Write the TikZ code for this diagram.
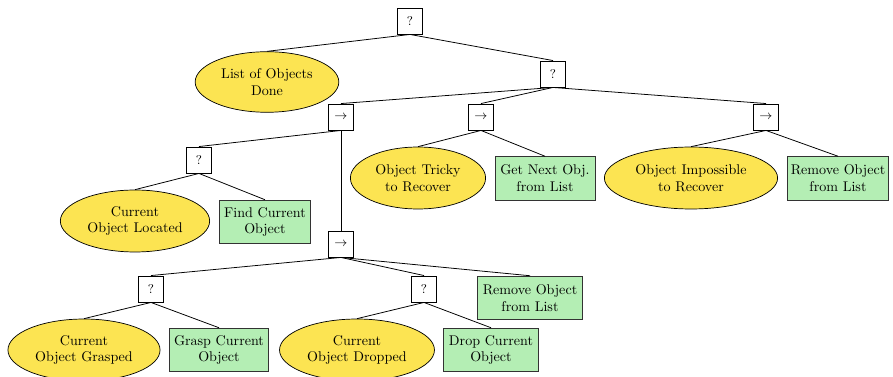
\documentclass[tikz,border=0pt]{standalone}
\usetikzlibrary{shapes.geometric}
\definecolor{condyellow}{RGB}{252,228,82}
\definecolor{actgreen}{RGB}{180,238,180}
\begin{document}
\begin{tikzpicture}[x=0.71pt,y=-0.71pt,
  ctrl/.style={draw=black,line width=0.6pt,fill=white,minimum width=17.5pt,minimum height=18.5pt,inner sep=0pt,font=\small},
  cond/.style={ellipse,draw=black,line width=0.5pt,fill=condyellow,align=center,inner sep=0pt},
  act/.style={draw=black!80,line width=0.6pt,fill=actgreen,align=center,inner sep=0pt,minimum height=31pt},
  link/.style={draw=black,line width=0.55pt}]
\useasboundingbox (0,0) rectangle (893,377);

% control-flow nodes
\node[ctrl] (root) at (410,21) {?};
\node[ctrl] (sel2) at (553,74) {?};
\node[ctrl] (seqA) at (341,117) {$\rightarrow$};
\node[ctrl] (seqB) at (481,117) {$\rightarrow$};
\node[ctrl] (seqC) at (766,117) {$\rightarrow$};
\node[ctrl] (selL) at (199,160) {?};
\node[ctrl] (seqD) at (341,244) {$\rightarrow$};
\node[ctrl] (selG) at (151,289) {?};
\node[ctrl] (selP) at (424,289) {?};

% conditions
\node[cond,minimum width=102pt,minimum height=43pt] (done) at (267,82) {List of Objects\\Done};
\node[cond,minimum width=96pt,minimum height=44pt] (tricky) at (418,178) {Object Tricky\\to Recover};
\node[cond,minimum width=123pt,minimum height=44pt] (imposs) at (691,178) {Object Impossible\\to Recover};
\node[cond,minimum width=106pt,minimum height=44pt] (located) at (135,221) {Current\\Object Located};
\node[cond,minimum width=108pt,minimum height=44pt] (grasped) at (84,350) {Current\\Object Grasped};
\node[cond,minimum width=110pt,minimum height=44pt] (dropped) at (357,350) {Current\\Object Dropped};

% actions
\node[act,minimum width=71pt] (getnext) at (545,178.5) {Get Next Obj.\\from List};
\node[act,minimum width=72pt] (removeR) at (838,178.5) {Remove Object\\from List};
\node[act,minimum width=65pt] (find) at (265,222) {Find Current\\Object};
\node[act,minimum width=74pt] (removeL) at (530,298) {Remove Object\\from List};
\node[act,minimum width=70pt] (grasp) at (219,350) {Grasp Current\\Object};
\node[act,minimum width=67pt] (drop) at (491,350) {Drop Current\\Object};

% tree edges
\draw[link] (root.south) -- (done.north);
\draw[link] (root.south) -- (sel2.north);
\draw[link] (sel2.south) -- (seqA.north);
\draw[link] (sel2.south) -- (seqB.north);
\draw[link] (sel2.south) -- (seqC.north);
\draw[link] (seqB.south) -- (tricky.north);
\draw[link] (seqB.south) -- (getnext.north);
\draw[link] (seqC.south) -- (imposs.north);
\draw[link] (seqC.south) -- (removeR.north);
\draw[link] (seqA.south) -- (selL.north);
\draw[link] (seqA.south) -- (seqD.north);
\draw[link] (selL.south) -- (located.north);
\draw[link] (selL.south) -- (find.north);
\draw[link] (seqD.south) -- (selG.north);
\draw[link] (seqD.south) -- (selP.north);
\draw[link] (seqD.south) -- (removeL.north);
\draw[link] (selG.south) -- (grasped.north);
\draw[link] (selG.south) -- (grasp.north);
\draw[link] (selP.south) -- (dropped.north);
\draw[link] (selP.south) -- (drop.north);
\end{tikzpicture}
\end{document}
